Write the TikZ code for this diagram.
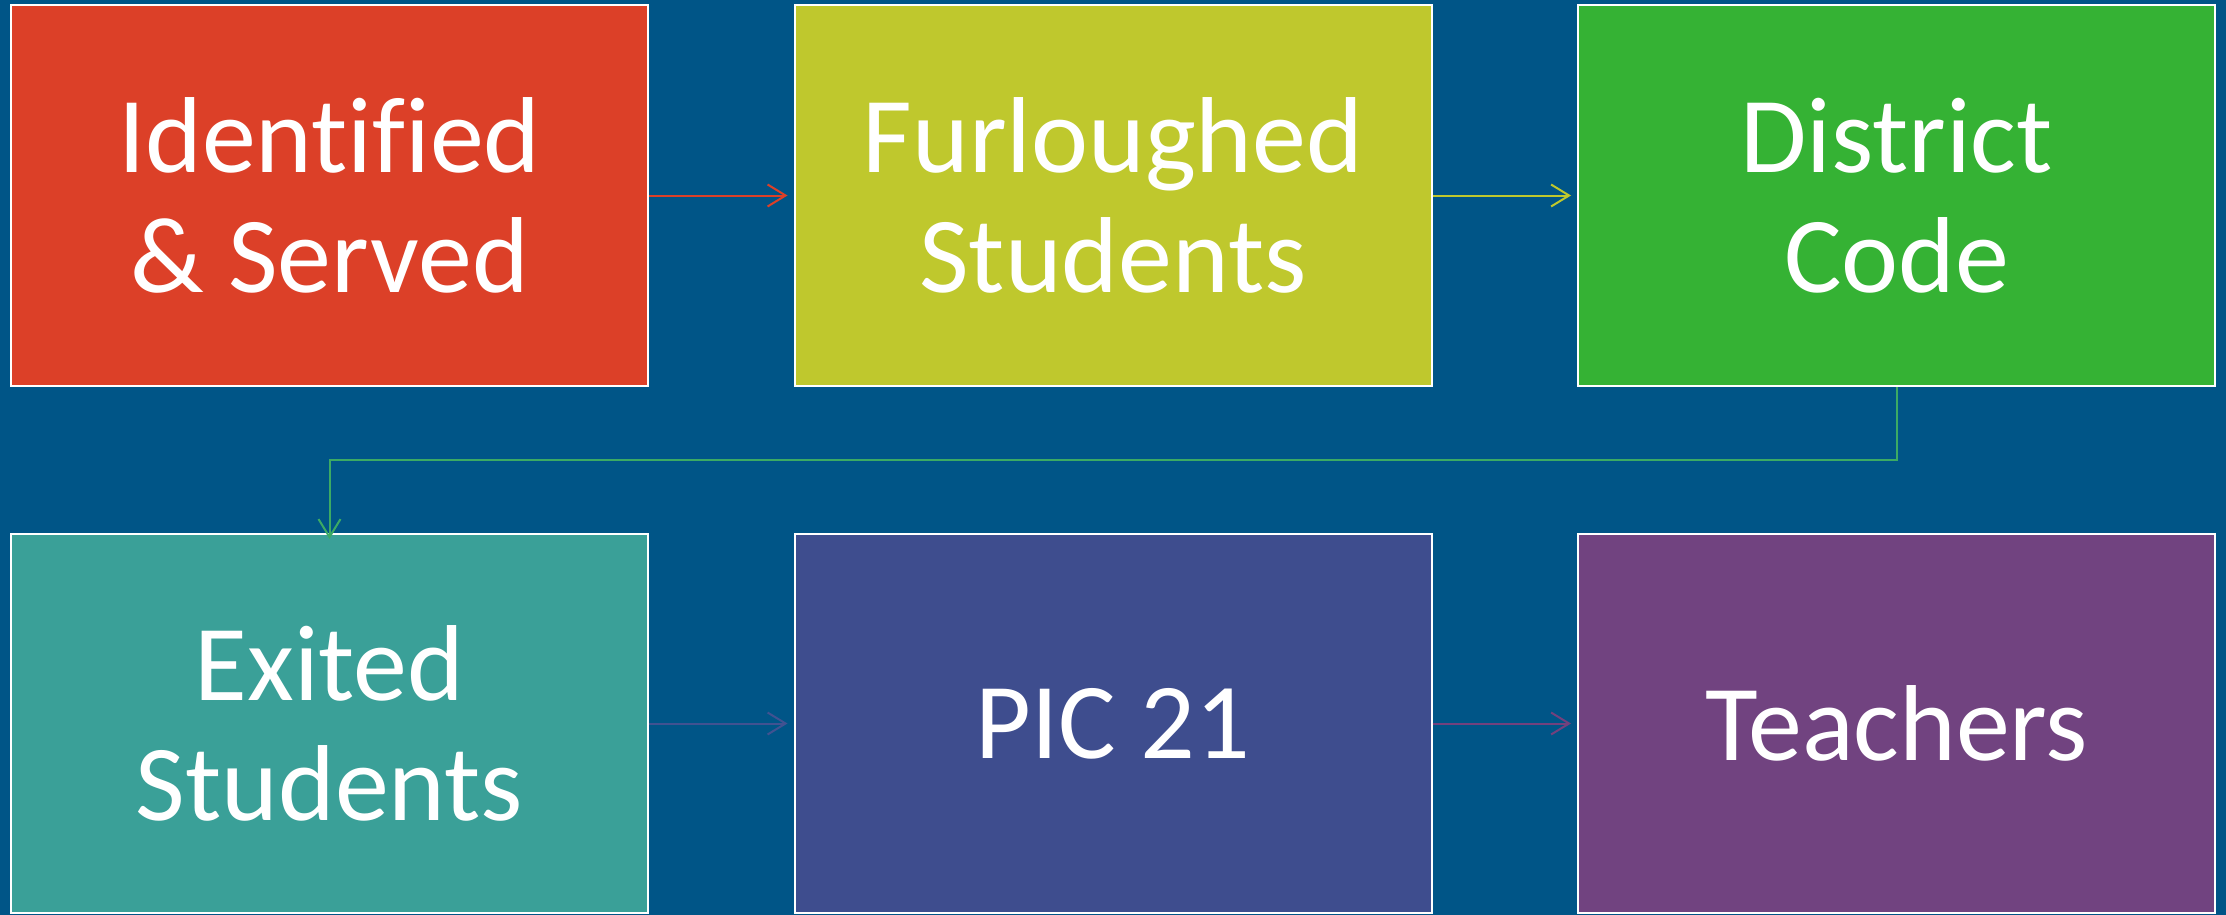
\documentclass[tikz,border=0pt]{standalone}
\usepackage{fontspec}
\setmainfont[Ligatures=NoCommon]{Carlito}
\usetikzlibrary{arrows.meta}
\definecolor{bg}{RGB}{0,85,135}
\definecolor{cred}{RGB}{220,64,40}
\definecolor{cyel}{RGB}{191,200,45}
\definecolor{cgrn}{RGB}{53,178,52}
\definecolor{cteal}{RGB}{58,160,152}
\definecolor{cind}{RGB}{62,77,142}
\definecolor{cpur}{RGB}{113,67,128}
\definecolor{lgrn}{RGB}{60,170,100}
\definecolor{lind}{RGB}{65,82,145}
\definecolor{lpur}{RGB}{115,65,125}
\tikzset{
  box/.style={draw=white, line width=1pt, text=white, minimum width=318.5pt, align=center,
    font=\fontsize{54}{60}\selectfont, inner sep=0pt},
  toprow/.style={box, minimum height=190.5pt},
  botrow/.style={box, minimum height=189.5pt},
  conn/.style={line width=1pt, -{Straight Barb[length=9pt,width=11pt,line width=1pt]}}
}
\begin{document}
\begin{tikzpicture}[x=0.5pt,y=-0.5pt]
\fill[bg] (0,0) rectangle (2226,915);
\useasboundingbox (0,0) rectangle (2226,915);
\node[toprow, fill=cred] (a) at (329.5,195.5) {Identified\\\& Served};
\node[toprow, fill=cyel] (b) at (1113,195.5) {Furloughed\\Students};
\node[toprow, fill=cgrn] (c) at (1896.5,195.5) {District\\Code};
\node[botrow, fill=cteal] (d) at (329.5,723.5) {Exited\\Students};
\node[botrow, fill=cind] (e) at (1113,723.5) {PIC 21};
\node[botrow, fill=cpur] (f) at (1896.5,723.5) {Teachers};
\coordinate (m1) at (1896.5,460);
\coordinate (m2) at (329.5,460);
\draw[conn, cred] (a.east) -- ([xshift=-3pt]b.west);
\draw[conn, cyel] (b.east) -- ([xshift=-3pt]c.west);
\draw[conn, lind] (d.east) -- ([xshift=-3pt]e.west);
\draw[conn, lpur] (e.east) -- ([xshift=-3pt]f.west);
\draw[conn, lgrn] (c.south) -- (m1) -- (m2) -- ([yshift=-3pt]d.north);
\end{tikzpicture}
\end{document}
